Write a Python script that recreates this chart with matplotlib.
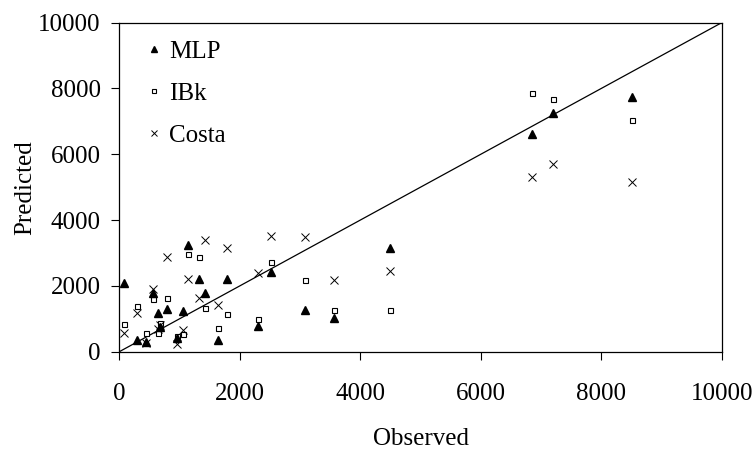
import matplotlib
matplotlib.use("Agg")
import matplotlib.pyplot as plt

plt.rcParams['font.family'] = ['Liberation Serif', 'DejaVu Serif']

observed = [70, 288, 438, 564, 647, 675, 786, 952, 1051, 1144, 1327, 1421,
            1642, 1791, 2310, 2516, 3080, 3566, 4501, 6849, 7197, 8507]
mlp = [2079, 356, 304, 1775, 1186, 760, 1289, 420, 1246, 3243, 2200, 1793,
       356, 2200, 770, 2432, 1267, 1015, 3143, 6608, 7246, 7733]
ibk = [842, 1389, 559, 1593, 559, 881, 1641, 480, 538, 2970, 2869, 1319,
       711, 1146, 994, 2717, 2179, 1267, 1267, 7872, 7681, 7043]
costa = [578, 1186, 274, 1897, 700, 812, 2869, 230, 660, 2200, 1623, 3395,
         1419, 3150, 2390, 3526, 3495, 2179, 2462, 5319, 5696, 5149]
series_names = ["MLP", "IBk", "Costa"]
ticks = [0, 2000, 4000, 6000, 8000, 10000]

FS = 18

fig = plt.figure(figsize=(7.56, 4.53), dpi=100)
ax = fig.add_axes([0.1578, 0.2236, 0.797, 0.7265])

ax.plot([0, 10000], [0, 10000], color='black', lw=0.9, zorder=1)
ax.plot(observed, mlp, linestyle='none', marker='^', ms=5.8, color='black',
        label=series_names[0], zorder=3)
ax.plot(observed, ibk, linestyle='none', marker='s', ms=3.6, mfc='white',
        mec='black', mew=0.8, label=series_names[1], zorder=2)
ax.plot(observed, costa, linestyle='none', marker='x', ms=5.5, color='black',
        mew=0.7, label=series_names[2], zorder=2)

ax.set_xlim(0, 10000)
ax.set_ylim(0, 10000)
ax.set_xticks(ticks)
ax.set_yticks(ticks)
ax.tick_params(direction='out', length=5.5, width=0.8, labelsize=FS)
ax.tick_params(axis='x', pad=17)
ax.tick_params(axis='y', pad=8)
for s in ax.spines.values():
    s.set_linewidth(0.9)

ax.set_xlabel("Observed", fontsize=FS, labelpad=16.5)
ax.set_ylabel("Predicted", fontsize=FS, labelpad=1)

leg = ax.legend(loc='upper left', frameon=False, fontsize=FS,
                markerscale=0.7, handlelength=0.4, handletextpad=0.4,
                labelspacing=0.78, borderaxespad=0, borderpad=0,
                bbox_to_anchor=(0.049, 0.945))

fig.savefig("out.png", dpi=100)
